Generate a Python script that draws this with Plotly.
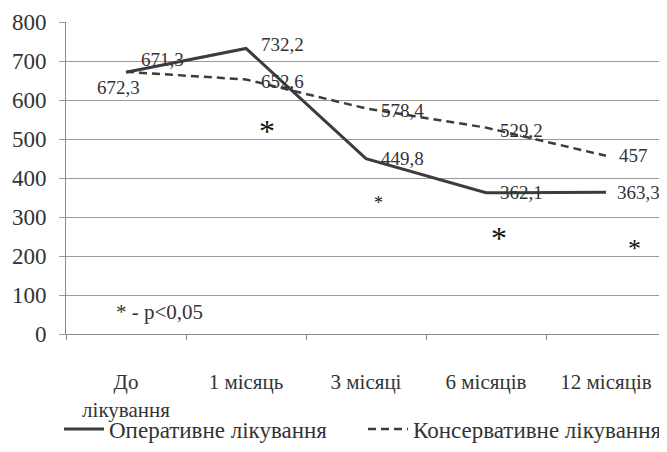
import plotly.graph_objects as go

categories = ["До<br>лікування", "1 місяць", "3 місяці", "6 місяців", "12 місяців"]
operative = [671.3, 732.2, 449.8, 362.1, 363.3]
conservative = [672.3, 652.6, 578.4, 529.2, 457]
operative_labels = ["671,3", "732,2", "449,8", "362,1", "363,3"]
conservative_labels = ["672,3", "652,6", "578,4", "529,2", "457"]
series_names = ["Оперативне лікування", "Консервативне лікування"]
# significance markers: (category index, y value)
star_cat = [1, 2, 3, 4]
star_val = [521, 336, 246, 220]
note_text = "* - p<0,05"

x_idx = list(range(len(categories)))

# style: label offsets in px (xshift, yshift)
op_shift = [(36, 13), (36, 4), (36, 0), (35, 0), (32, 0)]
cons_shift = [(-8, -16), (36, -2), (36, -2), (35, -3), (27, 0)]
star_dx = [0.175, 0.10, 0.11, 0.235]
star_size = [32, 18, 32, 26]

LINE = "#3c3c3c"
TXT = "#333333"
SERIF = "Liberation Serif"

fig = go.Figure()
fig.add_trace(go.Scatter(x=x_idx, y=operative, mode="lines", name=series_names[0],
                         line=dict(color=LINE, width=3)))
fig.add_trace(go.Scatter(x=x_idx, y=conservative, mode="lines", name=series_names[1],
                         line=dict(color=LINE, width=2.5, dash="8px,5px")))

ann = []
for i in x_idx:
    ann.append(dict(x=i, y=operative[i], text=operative_labels[i], showarrow=False,
                    xanchor="center", yanchor="middle",
                    xshift=op_shift[i][0], yshift=op_shift[i][1],
                    font=dict(family=SERIF, size=19, color=TXT)))
    ann.append(dict(x=i, y=conservative[i], text=conservative_labels[i], showarrow=False,
                    xanchor="center", yanchor="middle",
                    xshift=cons_shift[i][0], yshift=cons_shift[i][1],
                    font=dict(family=SERIF, size=19, color=TXT)))
for k, c in enumerate(star_cat):
    ann.append(dict(x=c + star_dx[k], y=star_val[k], text="*", showarrow=False,
                    xanchor="center", yanchor="middle",
                    font=dict(family=SERIF, size=star_size[k], color="#111111")))
ann.append(dict(x=0.28, y=56, text=note_text, showarrow=False, xanchor="center",
                yanchor="middle", font=dict(family=SERIF, size=21, color=TXT)))

# page body has an 8px margin, so the figure is sized to the remaining window
fig.update_layout(
    width=659, height=444,
    margin=dict(l=58, r=1, t=14, b=114),
    paper_bgcolor="white", plot_bgcolor="white",
    showlegend=True,
    legend=dict(orientation="h", x=-0.003, xanchor="left", y=-0.305, yanchor="middle",
                font=dict(family=SERIF, size=23, color=TXT), itemwidth=40,
                entrywidth=249, traceorder="normal", bgcolor="rgba(0,0,0,0)"),
    annotations=ann,
    xaxis=dict(
        tickmode="array", tickvals=x_idx, ticktext=categories,
        range=[-0.5, 4.5], showgrid=False, zeroline=False, automargin=False,
        showline=True, linecolor="#8a8a8a", linewidth=1,
        ticks="", ticklabelstandoff=29,
        tickfont=dict(family=SERIF, size=21, color=TXT),
    ),
    yaxis=dict(
        range=[0, 800], dtick=100, showgrid=True, gridcolor="#9a9a9a", gridwidth=1,
        zeroline=False, showline=True, linecolor="#8a8a8a", linewidth=1, automargin=False,
        ticks="outside", ticklen=6, tickcolor="#9a9a9a", ticklabelstandoff=8,
        tickfont=dict(family=SERIF, size=23, color=TXT),
    ),
)
# category boundary ticks on the x axis
fig.update_xaxes(minor=dict(tickmode="array", tickvals=[-0.5, 0.5, 1.5, 2.5, 3.5, 4.5],
                            ticks="outside", ticklen=5, tickcolor="#8a8a8a"))

fig.write_html("out.html")
